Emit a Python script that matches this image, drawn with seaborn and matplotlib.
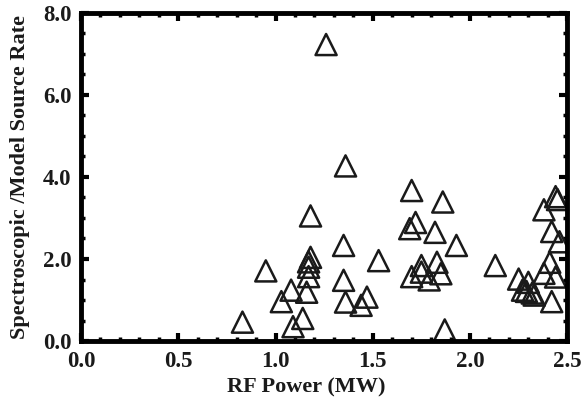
import matplotlib
matplotlib.use("Agg")
import matplotlib.pyplot as plt
import seaborn as sns
import pandas as pd
from matplotlib.ticker import MultipleLocator, FormatStrFormatter

rf_power = [1.26, 1.36, 1.18, 1.35, 1.53, 0.95, 1.18, 1.17, 1.17, 1.17,
            1.16, 1.08, 1.03, 1.35, 1.36, 1.47, 1.44, 1.14, 1.09, 0.83,
            1.70, 1.86, 1.72, 1.69, 1.82, 1.93, 2.13, 1.75, 1.83, 1.70,
            1.75, 1.85, 1.79, 1.87, 2.44, 2.45, 2.38, 2.42, 2.46, 2.41,
            2.38, 2.44, 2.25, 2.30, 2.27, 2.29, 2.32, 2.33, 2.42]
rate_ratio = [7.23, 4.27, 3.05, 2.33, 1.96, 1.71, 2.04, 1.93, 1.80, 1.57,
              1.19, 1.24, 0.96, 1.48, 0.95, 1.07, 0.87, 0.55, 0.35, 0.46,
              3.67, 3.39, 2.89, 2.74, 2.65, 2.33, 1.84, 1.84, 1.92, 1.57,
              1.68, 1.64, 1.49, 0.27, 3.52, 3.45, 3.20, 2.67, 2.42, 1.92,
              1.65, 1.56, 1.51, 1.43, 1.24, 1.21, 1.17, 1.12, 0.96]

df = pd.DataFrame({"RF Power (MW)": rf_power, "ratio": rate_ratio})

sns.set_style("ticks")
plt.rcParams["font.family"] = ["Liberation Serif", "DejaVu Serif"]
plt.rcParams["font.weight"] = "bold"

fig = plt.figure(figsize=(5.83, 4.05), dpi=100)
ax = fig.add_axes([0.139, 0.158, 0.834, 0.810])

sns.scatterplot(data=df, x="RF Power (MW)", y="ratio", marker="^", s=230,
                ax=ax, linewidth=1.8, legend=False)
coll = ax.collections[0]
coll.set_facecolor("none")
coll.set_edgecolor("#1a1a1a")
coll.set_linewidth(1.8)

ax.set_xlim(0, 2.5)
ax.set_ylim(0, 8)
ax.xaxis.set_major_locator(MultipleLocator(0.5))
ax.xaxis.set_minor_locator(MultipleLocator(0.1))
ax.yaxis.set_major_locator(MultipleLocator(2.0))
ax.yaxis.set_minor_locator(MultipleLocator(0.5))
ax.xaxis.set_major_formatter(FormatStrFormatter("%.1f"))
ax.yaxis.set_major_formatter(FormatStrFormatter("%.1f"))

for s in ax.spines.values():
    s.set_linewidth(3.5)
    s.set_color("black")

ax.tick_params(which="both", direction="in", top=True, right=True, color="black")
ax.tick_params(which="major", length=6, width=3, labelsize=16.5, pad=7,
               labelcolor="#1a1a1a")
ax.tick_params(which="minor", length=3, width=2.5)
for lab in ax.get_xticklabels() + ax.get_yticklabels():
    lab.set_fontweight("bold")

ax.set_xlabel("RF Power (MW)", fontsize=16, fontweight="bold", color="#1a1a1a")
ax.set_ylabel("Spectroscopic /Model Source Rate", fontsize=16, fontweight="bold",
              color="#1a1a1a")
ax.xaxis.set_label_coords(0.463, -0.11)
ax.yaxis.set_label_coords(-0.105, 0.5)

fig.savefig("out.png", dpi=100)
